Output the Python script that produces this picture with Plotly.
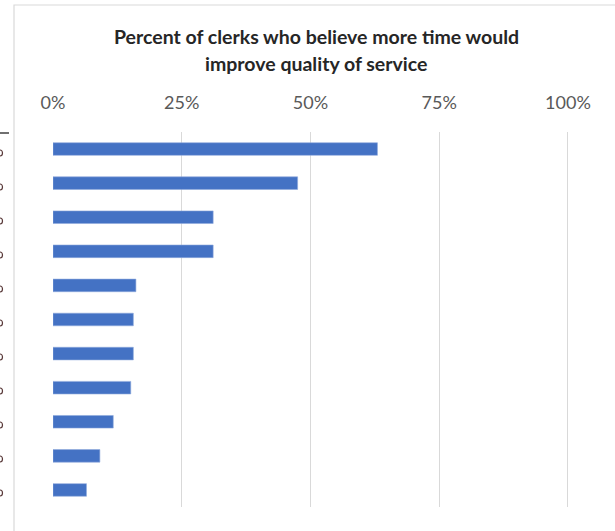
import plotly.graph_objects as go

categories = [f"Item {i}" for i in range(1, 12)]
values = [0.63, 0.475, 0.311, 0.311, 0.161, 0.156, 0.156, 0.151, 0.117, 0.091, 0.065]
tick_vals = [0, 0.25, 0.5, 0.75, 1.0]
tick_text = ["0%", "25%", "50%", "75%", "100%"]
title_lines = ["Percent of clerks who believe more time would", "improve quality of service"]

W, H = 615, 531
ML, MR, MT, MB = 53, 46, 132, 24
PW, PH = W - ML - MR, H - MT - MB

def px_x(p):
    return (p - ML) / PW

def px_y(p):
    return 1 - (p - MT) / PH

fig = go.Figure(go.Bar(
    x=values, y=categories, orientation="h",
    marker=dict(color="#4472C4", line=dict(color="#8EA9DB", width=0.6)),
    width=0.37,
))

annotations = []
for i, line in enumerate(title_lines):
    annotations.append(dict(
        text=line, xref="paper", yref="paper", x=px_x(316), y=px_y(37 + 26 * i),
        xanchor="center", yanchor="middle", showarrow=False,
        font=dict(family="Lato", size=19.5, color="#262626", weight="bold"),
    ))

shapes = [
    dict(type="rect", xref="paper", yref="paper", x0=px_x(14), x1=px_x(700),
         y0=px_y(5), y1=px_y(600), line=dict(color="#D9D9D9", width=1.2)),
    dict(type="line", xref="paper", yref="paper", x0=px_x(0), x1=px_x(9),
         y0=px_y(133), y1=px_y(133), line=dict(color="#404040", width=1.5)),
]
# clipped glyph fragments of a neighbouring chart at the far left edge
for i in range(11):
    cy = 153 + 34 * i
    shapes.append(dict(type="circle", xref="paper", yref="paper",
                       x0=px_x(-2.5), x1=px_x(2.5), y0=px_y(cy - 3), y1=px_y(cy + 3),
                       line=dict(color="#5a3a3a", width=1.2)))

fig.update_layout(
    width=W, height=H,
    margin=dict(l=ML, r=MR, t=MT, b=MB),
    paper_bgcolor="white", plot_bgcolor="white",
    showlegend=False,
    xaxis=dict(
        side="top", range=[0, 1.002], tickvals=tick_vals, ticktext=tick_text,
        showgrid=True, gridcolor="#D9D9D9", gridwidth=1.2, zeroline=False, showline=False,
        ticks="outside", ticklen=15, tickcolor="rgba(0,0,0,0)",
        tickfont=dict(family="Lato", size=18, color="#595959"),
    ),
    yaxis=dict(
        categoryorder="array", categoryarray=categories[::-1],
        showticklabels=False, showgrid=False, zeroline=False, showline=False,
    ),
    annotations=annotations,
    shapes=shapes,
)

fig.write_html("out.html")
